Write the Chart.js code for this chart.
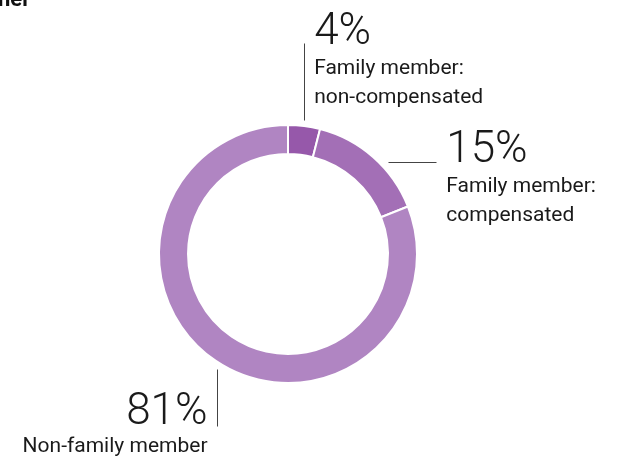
<!DOCTYPE html>
<html>
<head>
<meta charset="utf-8">
<script src="https://cdn.jsdelivr.net/npm/chart.js@4.4.1/dist/chart.umd.min.js"></script>
<style>
  html, body { margin: 0; padding: 0; background: #fff; }
  #wrap { width: 621px; height: 462px; position: relative; }
</style>
</head>
<body>
<div id="wrap"><canvas id="donut"></canvas></div>
<script>
/* ── Data ── */
const CATEGORIES = ['Family member: non-compensated', 'Family member: compensated', 'Non-family member'];
const VALUES = [4, 15, 81];
const PCT_LABELS = ['4%', '15%', '81%'];
const LABEL_LINES = [['Family member:', 'non-compensated'], ['Family member:', 'compensated'], ['Non-family member']];
const COLORS = ['#9658aa', '#a36fb6', '#b085c2'];

/* callout layout: leader line relative to arc anchor, text relative to line */
const CALLOUTS = [
  { line: [0, -6, 0, -83], text: [10, -82], align: 'left' },
  { line: [15, 5, 63, 5], text: [73, 5], align: 'left' },
  { line: [2, 8, 2, 65], text: [-8, 63], align: 'right' }
];

const FONT = 'Roboto, "Noto Sans", sans-serif';

const calloutPlugin = {
  id: 'callouts',
  afterDraw(chart) {
    const ctx = chart.ctx;
    const arcs = chart.getDatasetMeta(0).data;
    ctx.save();
    // cut-off title at top
    ctx.fillStyle = '#111';
    ctx.font = 'bold 22px ' + FONT;
    ctx.textAlign = 'left';
    ctx.textBaseline = 'alphabetic';
    ctx.fillText('ner', -2, 6);

    arcs.forEach((arc, i) => {
      const { x, y, startAngle, endAngle, outerRadius } = arc.getProps(['x', 'y', 'startAngle', 'endAngle', 'outerRadius'], true);
      const mid = (startAngle + endAngle) / 2;
      const ax = x + Math.cos(mid) * outerRadius;
      const ay = y + Math.sin(mid) * outerRadius;
      const c = CALLOUTS[i];
      ctx.strokeStyle = '#444';
      ctx.lineWidth = 1;
      ctx.beginPath();
      ctx.moveTo(Math.round(ax + c.line[0]) + 0.5, Math.round(ay + c.line[1]) + 0.5);
      ctx.lineTo(Math.round(ax + c.line[2]) + 0.5, Math.round(ay + c.line[3]) + 0.5);
      ctx.stroke();

      const tx = ax + c.text[0];
      const ty = ay + c.text[1];
      ctx.fillStyle = '#1a1a1a';
      ctx.textAlign = c.align;
      ctx.font = '300 44px ' + FONT;
      if (i === 2) {
        ctx.fillText(PCT_LABELS[i], tx, ty);
        ctx.font = '400 21px ' + FONT;
        ctx.fillText(LABEL_LINES[i][0], tx - 190 + 190, ty + 28);
      } else {
        ctx.fillText(PCT_LABELS[i], tx, ty);
        ctx.font = '400 21px ' + FONT;
        LABEL_LINES[i].forEach((t, k) => ctx.fillText(t, tx, ty + 30 + k * 29));
      }
    });
    ctx.restore();
  }
};

new Chart(document.getElementById('donut'), {
  type: 'doughnut',
  data: {
    labels: CATEGORIES,
    datasets: [{ data: VALUES, backgroundColor: COLORS, borderColor: '#fff', borderWidth: 2 }]
  },
  options: {
    responsive: true, maintainAspectRatio: false, animation: false,
    cutout: '77.5%',
    layout: { padding: { left: 158, right: 203, top: 124, bottom: 78 } },
    plugins: { legend: { display: false }, tooltip: { enabled: false } }
  },
  plugins: [calloutPlugin]
});
</script>
</body>
</html>
